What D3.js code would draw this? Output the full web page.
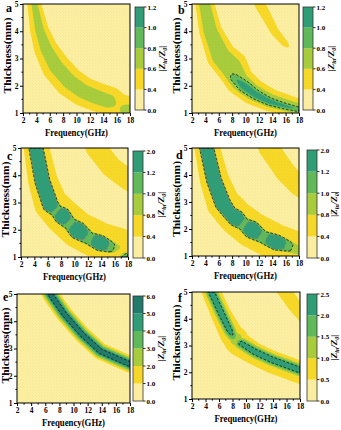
<!DOCTYPE html>
<html>
<head>
<meta charset="utf-8">
<script src="https://cdn.jsdelivr.net/npm/d3@7"></script>
<style>
  body { margin: 0; background: #fff; }
  svg text { font-family: "Liberation Serif", "Times New Roman", serif; font-weight: bold; }
</style>
</head>
<body>
<svg id="chart" width="341" height="430"></svg>
<script>
// axis ticks
const freqTicks = [2, 4, 6, 8, 10, 12, 14, 16, 18];
const thickTicks = [1, 2, 3, 4, 5];

// colour-bar levels of each panel
const levelsA = [0, 0.4, 0.6, 0.8, 1.0, 1.2];
const levelsB = [0, 0.4, 0.6, 0.8, 1.0, 1.2];
const levelsC = [0, 0.4, 0.8, 1.0, 1.2, 2.0];
const levelsD = [0, 0.4, 0.8, 1.0, 1.2, 2.0];
const levelsE = [0, 1, 2, 3, 4, 5, 6];
const levelsF = [0, 0.5, 1.0, 1.5, 2.0, 2.5];

// ridges of |Zin/Z0|
// row: [frequency GHz, thickness mm, peak value, half-width below mm, half-width above mm]
const ridgeA = [
  [3.2, 5.8, 0.66, 0.36, 0.32], [3.75, 5.0, 0.66, 0.38, 0.34], [4.5, 4.05, 0.67, 0.5, 0.45],
  [5.5, 3.35, 0.68, 0.62, 0.58], [7.0, 2.7, 0.68, 0.75, 0.7], [9.0, 2.15, 0.68, 0.78, 0.72],
  [11.0, 1.8, 0.68, 0.76, 0.72], [13.0, 1.58, 0.68, 0.72, 0.75], [15.0, 1.4, 0.67, 0.68, 0.78],
  [16.2, 1.26, 0.57, 0.6, 0.8], [17.2, 1.1, 0.66, 0.55, 0.82], [18.0, 1.02, 0.66, 0.5, 0.85],
  [19.0, 0.95, 0.66, 0.5, 0.85]
];
const ridgeBBase = [
  [3.4, 5.6, 0.74, 0.42, 0.46], [3.85, 5.0, 0.74, 0.42, 0.46], [4.7, 4.0, 0.75, 0.5, 0.55],
  [6.2, 3.06, 0.77, 0.6, 0.75], [7.6, 2.65, 0.79, 0.6, 0.85], [9.0, 2.15, 0.77, 0.6, 0.72],
  [11.0, 1.75, 0.76, 0.55, 0.65], [13.6, 1.42, 0.75, 0.45, 0.6], [16.0, 1.25, 0.74, 0.4, 0.55],
  [18.0, 1.12, 0.74, 0.38, 0.5], [19.0, 1.08, 0.74, 0.38, 0.5]
];
const ridgeBCore = [
  [7.5, 2.55, 0.6, 0.25, 0.25], [8.2, 2.32, 0.95, 0.32, 0.32], [9.7, 2.0, 1.1, 0.38, 0.38],
  [11.5, 1.68, 1.13, 0.3, 0.3], [13.6, 1.42, 1.12, 0.24, 0.24], [15.8, 1.26, 1.05, 0.21, 0.21],
  [18.0, 1.13, 0.97, 0.19, 0.19], [19.0, 1.08, 0.95, 0.19, 0.19]
];
const ridgeBUpper = [
  [11.5, 5.5, 0.5, 0.42, 0.42], [12.15, 5.0, 0.5, 0.42, 0.42], [14.4, 3.98, 0.47, 0.38, 0.38],
  [15.9, 3.55, 0.45, 0.35, 0.35], [16.8, 3.35, 0.37, 0.3, 0.3]
];
const ridgeCBase = [
  [3.8, 5.6, 0.7, 0.6, 0.65], [4.24, 5.0, 0.7, 0.6, 0.65], [5.2, 3.78, 0.7, 0.7, 0.75],
  [6.4, 2.95, 0.7, 0.8, 0.85], [8.1, 2.5, 0.7, 0.85, 0.9], [10.5, 2.0, 0.7, 0.9, 0.9],
  [13.9, 1.55, 0.7, 0.9, 0.95], [16.3, 1.38, 0.7, 0.9, 0.95], [18.0, 1.28, 0.7, 0.9, 0.9],
  [19.0, 1.22, 0.7, 0.9, 0.9]
];
const ridgeCCore = [
  [3.9, 5.6, 1.5, 0.3, 0.3], [4.24, 5.0, 1.5, 0.3, 0.3], [5.19, 3.78, 1.5, 0.32, 0.32],
  [6.39, 2.92, 1.45, 0.34, 0.34], [7.25, 2.7, 1.12, 0.31, 0.31], [8.13, 2.52, 1.42, 0.37, 0.37],
  [9.3, 2.22, 1.12, 0.32, 0.32], [10.47, 1.98, 1.42, 0.39, 0.39], [12.2, 1.68, 1.12, 0.31, 0.31],
  [13.86, 1.51, 1.42, 0.34, 0.34], [15.3, 1.38, 1.15, 0.28, 0.28], [16.3, 1.3, 0.9, 0.22, 0.22],
  [16.8, 1.15, 0.6, 0.2, 0.2], [17.4, 1.0, 1.15, 0.22, 0.22], [18.5, 0.9, 1.15, 0.22, 0.22]
];
const ridgeCUpper = [
  [12.3, 5.6, 0.6, 0.6, 0.6], [13.25, 5.0, 0.6, 0.6, 0.6], [15.5, 4.3, 0.6, 0.6, 0.6],
  [18.0, 3.84, 0.6, 0.6, 0.6], [19.0, 3.7, 0.6, 0.6, 0.6]
];
const ridgeDBase = [
  [3.8, 5.6, 0.7, 0.6, 0.65], [4.19, 5.0, 0.7, 0.6, 0.65], [5.3, 3.8, 0.7, 0.7, 0.75],
  [6.6, 2.95, 0.7, 0.8, 0.85], [8.6, 2.4, 0.7, 0.85, 0.9], [10.9, 1.98, 0.7, 0.9, 0.9],
  [14.6, 1.5, 0.7, 0.9, 0.9], [18.0, 1.2, 0.7, 0.9, 0.9], [19.0, 1.14, 0.7, 0.9, 0.9]
];
const ridgeDCore = [
  [3.85, 5.6, 1.5, 0.3, 0.3], [4.19, 5.0, 1.5, 0.3, 0.3], [5.3, 3.8, 1.5, 0.32, 0.32],
  [6.6, 2.95, 1.48, 0.34, 0.34], [7.6, 2.6, 1.3, 0.32, 0.32], [8.6, 2.4, 1.42, 0.37, 0.37],
  [9.7, 2.18, 1.12, 0.32, 0.32], [10.9, 1.98, 1.42, 0.39, 0.39], [12.6, 1.7, 1.12, 0.31, 0.31],
  [14.64, 1.5, 1.42, 0.34, 0.34], [16.2, 1.38, 1.15, 0.28, 0.28], [17.2, 1.28, 0.95, 0.25, 0.25],
  [18.3, 1.18, 0.85, 0.22, 0.22], [19.0, 1.12, 0.85, 0.22, 0.22]
];
const ridgeDUpper = [
  [12.5, 5.6, 0.6, 0.6, 0.6], [13.5, 5.0, 0.6, 0.6, 0.6], [16.0, 4.1, 0.6, 0.6, 0.6],
  [18.0, 3.6, 0.6, 0.6, 0.6], [19.0, 3.45, 0.6, 0.6, 0.6]
];
const ridgeE = [
  [6.2, 5.7, 5.8, 0.23, 0.23], [6.7, 5.0, 5.8, 0.23, 0.23], [8.7, 4.26, 5.8, 0.23, 0.23],
  [11.2, 3.52, 5.8, 0.23, 0.23], [13.8, 2.9, 5.8, 0.23, 0.23], [18.0, 2.42, 5.8, 0.23, 0.23],
  [19.0, 2.35, 5.8, 0.23, 0.23]
];
const ridgeFBase = [
  [4.4, 5.6, 0.95, 0.45, 0.42], [4.91, 5.0, 0.95, 0.45, 0.42], [6.4, 4.17, 0.95, 0.5, 0.44],
  [8.0, 3.4, 1.1, 0.52, 0.46], [8.6, 3.25, 1.25, 0.55, 0.46], [9.1, 3.11, 1.1, 0.58, 0.44],
  [11.33, 2.76, 0.95, 0.6, 0.43], [13.8, 2.47, 0.95, 0.62, 0.43], [18.0, 2.08, 0.95, 0.62, 0.43],
  [19.0, 2.0, 0.95, 0.62, 0.43]
];
const ridgeFCoreUpper = [
  [4.5, 5.6, 2.4, 0.25, 0.25], [4.91, 4.98, 2.4, 0.25, 0.25], [6.4, 4.17, 2.4, 0.25, 0.25],
  [7.6, 3.55, 2.3, 0.25, 0.25], [8.1, 3.33, 1.9, 0.24, 0.24], [8.4, 3.2, 1.2, 0.22, 0.22]
];
const ridgeFCoreLower = [
  [8.8, 3.2, 1.4, 0.22, 0.22], [9.15, 3.1, 2.2, 0.25, 0.25], [11.33, 2.76, 2.4, 0.25, 0.25],
  [13.8, 2.47, 2.4, 0.25, 0.25], [18.0, 2.08, 2.4, 0.25, 0.25], [19.0, 2.0, 2.4, 0.25, 0.25]
];
const ridgeFUpper = [
  [14.6, 5.6, 0.75, 0.4, 0.4], [15.5, 5.1, 0.75, 0.4, 0.4], [17.2, 4.5, 0.75, 0.4, 0.4],
  [19.0, 4.0, 0.75, 0.4, 0.4]
];

const pale = '#FDF0A2', yellow = '#F8D927', ygreen = '#A8CD3C', green = '#5FBA5A',
      teal = '#2E9E78', dteal = '#1F7A6C';
const palette5 = [pale, yellow, ygreen, green, teal];
const palette6 = [pale, yellow, ygreen, green, teal, dteal];

const panels = [
  { letter: 'a', ridges: [{ rows: ridgeA, k: 2 }], levels: levelsA, colors: palette5, dash: [],
    plot: { x0: 23, x1: 130, y0: 4, y1: 113 }, cbar: { x: 135, w: 9, y0: 7, y1: 110 }, lp: [6, 12] },
  { letter: 'b', ridges: [{ rows: ridgeBBase, k: 2 }, { rows: ridgeBCore, k: 2 }, { rows: ridgeBUpper, k: 2 }],
    levels: levelsB, colors: palette5, dash: [{ v: 0.8, c: '#111' }],
    plot: { x0: 192, x1: 299, y0: 4, y1: 113 }, cbar: { x: 303, w: 10, y0: 7, y1: 110 }, lp: [178, 14] },
  { letter: 'c', ridges: [{ rows: ridgeCBase, k: 2 }, { rows: ridgeCCore, k: 6 }, { rows: ridgeCUpper, k: 2 }],
    levels: levelsC, colors: palette5, dash: [{ v: 1.0, c: '#111' }, { v: 1.2, c: '#8a7272' }],
    plot: { x0: 21, x1: 128, y0: 148, y1: 257 }, cbar: { x: 133, w: 10, y0: 151, y1: 258 }, lp: [7, 160] },
  { letter: 'd', ridges: [{ rows: ridgeDBase, k: 2 }, { rows: ridgeDCore, k: 6 }, { rows: ridgeDUpper, k: 2 }],
    levels: levelsD, colors: palette5, dash: [{ v: 1.0, c: '#111' }, { v: 1.2, c: '#8a7272' }],
    plot: { x0: 192, x1: 299, y0: 148, y1: 256 }, cbar: { x: 307, w: 10, y0: 150, y1: 258 }, lp: [176, 159] },
  { letter: 'e', ridges: [{ rows: ridgeE, k: 2 }], levels: levelsE, colors: palette6, dash: [{ v: 5.0, c: '#111' }],
    plot: { x0: 17, x1: 130, y0: 294, y1: 403 }, cbar: { x: 133, w: 10, y0: 296, y1: 401 }, lp: [3, 301] },
  { letter: 'f', ridges: [{ rows: ridgeFBase, k: 2 }, { rows: ridgeFCoreUpper, k: 2 }, { rows: ridgeFCoreLower, k: 2 }, { rows: ridgeFUpper, k: 2 }],
    levels: levelsF, colors: palette5, dash: [{ v: 2.0, c: '#111' }],
    plot: { x0: 192, x1: 300, y0: 292, y1: 399 }, cbar: { x: 307, w: 10, y0: 294, y1: 401 }, lp: [178, 302] }
];

const svg = d3.select('#chart');
const defs = svg.append('defs');
const pat = defs.append('pattern').attr('id', 'dots').attr('width', 3).attr('height', 3)
  .attr('patternUnits', 'userSpaceOnUse');
pat.append('circle').attr('cx', 0.8).attr('cy', 0.8).attr('r', 0.45).attr('fill', 'rgba(150,110,30,0.16)');
pat.append('circle').attr('cx', 2.3).attr('cy', 2.3).attr('r', 0.45).attr('fill', 'rgba(150,110,30,0.16)');

// value field: the largest ridge contribution at each grid cell
function buildField(ridges, x, y, box, step) {
  const pxPerMm = y(1) - y(2);
  const nx = Math.ceil((box.x1 - box.x0) / step), ny = Math.ceil((box.y1 - box.y0) / step);
  const rs = ridges.map(r => ({
    k: r.k,
    pts: r.rows.map(d => ({ x: x(d[0]), y: y(d[1]), p: d[2], wi: d[3] * pxPerMm, wo: d[4] * pxPerMm }))
  }));
  const values = new Float64Array(nx * ny);
  for (let j = 0; j < ny; j++) {
    for (let i = 0; i < nx; i++) {
      const px = box.x0 + (i + 0.5) * step, py = box.y0 + (j + 0.5) * step;
      let v = 0;
      for (const r of rs) {
        let best = Infinity, bs = 0, bt = 0, bc = 0;
        for (let s = 0; s < r.pts.length - 1; s++) {
          const a = r.pts[s], b = r.pts[s + 1];
          const dx = b.x - a.x, dy = b.y - a.y;
          let t = ((px - a.x) * dx + (py - a.y) * dy) / (dx * dx + dy * dy);
          t = Math.max(0, Math.min(1, t));
          const rx = px - (a.x + t * dx), ry = py - (a.y + t * dy);
          const d2 = rx * rx + ry * ry;
          if (d2 < best) { best = d2; bs = s; bt = t; bc = dx * ry - dy * rx; }
        }
        const a = r.pts[bs], b = r.pts[bs + 1];
        const p = a.p + (b.p - a.p) * bt;
        const w = bc < 0 ? a.wo + (b.wo - a.wo) * bt : a.wi + (b.wi - a.wi) * bt;
        const u = Math.sqrt(best) / w;
        v = Math.max(v, p * Math.exp(-Math.pow(u, r.k)));
      }
      values[j * nx + i] = v;
    }
  }
  return { values, nx, ny };
}

panels.forEach((pn, idx) => {
  const box = pn.plot;
  const x = d3.scaleLinear().domain([2, 18]).range([box.x0, box.x1]);
  const y = d3.scaleLinear().domain([1, 5]).range([box.y1, box.y0]);
  const g = svg.append('g');
  const clipId = 'clip' + idx;
  defs.append('clipPath').attr('id', clipId).append('rect')
    .attr('x', box.x0).attr('y', box.y0).attr('width', box.x1 - box.x0).attr('height', box.y1 - box.y0);

  const step = 0.5;
  const f = buildField(pn.ridges, x, y, box, step);
  const proj = d3.geoTransform({
    point(px, py) { this.stream.point(box.x0 + px * step, box.y0 + py * step); }
  });
  const path = d3.geoPath(proj);
  const thresholds = pn.levels.slice(1, pn.levels.length - 1);
  const contours = d3.contours().size([f.nx, f.ny]).thresholds(thresholds)(f.values);

  const map = g.append('g').attr('clip-path', `url(#${clipId})`);
  map.append('rect').attr('x', box.x0).attr('y', box.y0)
    .attr('width', box.x1 - box.x0).attr('height', box.y1 - box.y0).attr('fill', pn.colors[0]);
  map.selectAll('path.band').data(contours).join('path')
    .attr('class', 'band')
    .attr('d', path)
    .attr('fill', (d, i) => pn.colors[i + 1]);
  map.append('rect').attr('x', box.x0).attr('y', box.y0)
    .attr('width', box.x1 - box.x0).attr('height', box.y1 - box.y0).attr('fill', 'url(#dots)');
  pn.dash.forEach(dl => {
    const c = d3.contours().size([f.nx, f.ny]).thresholds([dl.v])(f.values);
    map.append('path').attr('d', path(c[0])).attr('fill', 'none')
      .attr('stroke', dl.c).attr('stroke-width', 0.9).attr('stroke-dasharray', '2.5,1.8');
  });

  // frame and axes
  g.append('rect').attr('x', box.x0).attr('y', box.y0)
    .attr('width', box.x1 - box.x0).attr('height', box.y1 - box.y0)
    .attr('fill', 'none').attr('stroke', '#000').attr('stroke-width', 1);

  const xAxis = g.append('g').attr('transform', `translate(0,${box.y1})`)
    .call(d3.axisBottom(x).tickValues(freqTicks).tickFormat(d3.format('d')).tickSize(3).tickSizeOuter(0).tickPadding(1.5));
  const yAxis = g.append('g').attr('transform', `translate(${box.x0},0)`)
    .call(d3.axisLeft(y).tickValues(thickTicks).tickFormat(d3.format('d')).tickSize(3).tickSizeOuter(0).tickPadding(1.5));
  [xAxis, yAxis].forEach(ax => {
    ax.attr('font-size', 7.5);
    ax.select('.domain').remove();
    ax.selectAll('line').attr('stroke', '#000');
  });
  const minorX = d3.range(3, 18, 2), minorY = d3.range(1.5, 5, 1);
  g.selectAll(null).data(minorX).join('line')
    .attr('x1', d => x(d)).attr('x2', d => x(d)).attr('y1', box.y1).attr('y2', box.y1 + 1.6).attr('stroke', '#000');
  g.selectAll(null).data(minorY).join('line')
    .attr('y1', d => y(d)).attr('y2', d => y(d)).attr('x1', box.x0).attr('x2', box.x0 - 1.6).attr('stroke', '#000');

  g.append('text').attr('x', (box.x0 + box.x1) / 2).attr('y', box.y1 + 23)
    .attr('text-anchor', 'middle').attr('font-size', 10.5)
    .attr('textLength', 63).attr('lengthAdjust', 'spacingAndGlyphs')
    .text('Frequency(GHz)');
  g.append('text')
    .attr('transform', `translate(${Math.max(box.x0 - 12, 9)},${(box.y0 + box.y1) / 2 - 3}) rotate(-90)`)
    .attr('text-anchor', 'middle').attr('font-size', 10.5)
    .attr('textLength', 76).attr('lengthAdjust', 'spacingAndGlyphs')
    .text('Thickness(mm)');
  g.append('text').attr('x', pn.lp[0]).attr('y', pn.lp[1]).attr('font-size', 12).text(pn.letter);

  // colour bar
  const cb = pn.cbar, nb = pn.levels.length - 1;
  const cy = d3.scaleLinear().domain([0, nb]).range([cb.y1, cb.y0]);
  g.selectAll(null).data(d3.range(nb)).join('rect')
    .attr('x', cb.x).attr('width', cb.w)
    .attr('y', d => cy(d + 1)).attr('height', d => cy(d) - cy(d + 1))
    .attr('fill', d => pn.colors[d]);
  g.append('rect').attr('x', cb.x).attr('y', cb.y0).attr('width', cb.w).attr('height', cb.y1 - cb.y0)
    .attr('fill', 'url(#dots)');
  g.append('rect').attr('x', cb.x).attr('y', cb.y0).attr('width', cb.w).attr('height', cb.y1 - cb.y0)
    .attr('fill', 'none').attr('stroke', '#333').attr('stroke-width', 0.8);
  g.selectAll(null).data(pn.levels).join('line')
    .attr('x1', cb.x + cb.w).attr('x2', cb.x + cb.w + 2.5)
    .attr('y1', (d, i) => cy(i)).attr('y2', (d, i) => cy(i)).attr('stroke', '#333');
  g.selectAll(null).data(pn.levels).join('text')
    .attr('x', cb.x + cb.w + 3.5).attr('y', (d, i) => cy(i) + 2.5)
    .attr('font-size', 7).text(d => d3.format('.1f')(d));
  const title = g.append('text')
    .attr('transform', `translate(${Math.min(cb.x + cb.w + 21, 337)},${(cb.y0 + cb.y1) / 2}) rotate(-90)`)
    .attr('text-anchor', 'middle').attr('font-size', 9).style('font-style', 'italic');
  title.append('tspan').text('|Z');
  title.append('tspan').attr('font-size', 6).attr('dy', 1.5).text('in');
  title.append('tspan').attr('dy', -1.5).text('/Z');
  title.append('tspan').attr('font-size', 6).attr('dy', 1.5).text('0');
  title.append('tspan').attr('dy', -1.5).text('|');
});
</script>
</body>
</html>
